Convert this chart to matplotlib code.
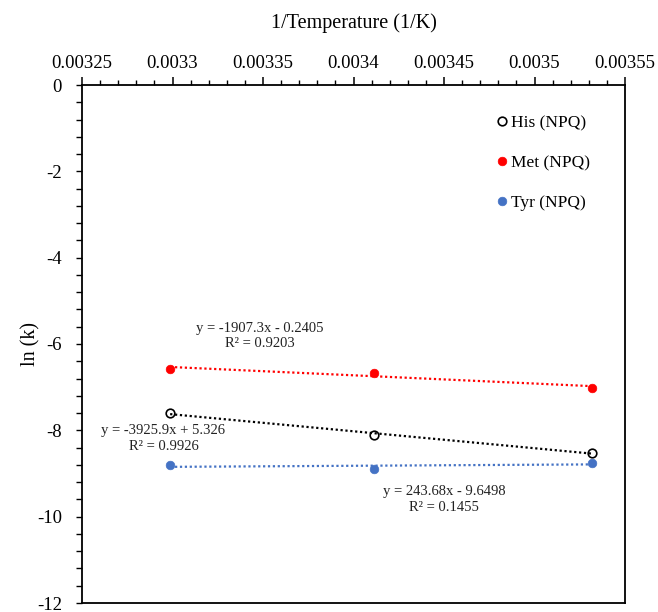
import numpy as np
import matplotlib
matplotlib.use("Agg")
import matplotlib.pyplot as plt
from matplotlib.ticker import MultipleLocator, FixedLocator

plt.rcParams['font.family'] = ['Liberation Serif', 'DejaVu Serif']
plt.rcParams['axes.unicode_minus'] = False

# ---- data ----
temps_K = [303.15, 293.15, 283.15]
inv_T = [1.0 / t for t in temps_K]
his_lnk = [-7.600, -8.112, -8.517]
met_lnk = [-6.571, -6.672, -7.013]
tyr_lnk = [-8.805, -8.897, -8.751]

series_names = ['His (NPQ)', 'Met (NPQ)', 'Tyr (NPQ)']
fit_slopes = [-3925.9, -1907.3, 243.68]
fit_intercepts = [5.326, -0.2405, -9.6498]
fit_r2 = ['0.9926', '0.9203', '0.1455']
fit_eq = ['y = -3925.9x + 5.326', 'y = -1907.3x - 0.2405', 'y = 243.68x - 9.6498']

x_ticks = [0.00325, 0.0033, 0.00335, 0.0034, 0.00345, 0.0035, 0.00355]
x_tick_labels = ['0.00325', '0.0033', '0.00335', '0.0034', '0.00345', '0.0035', '0.00355']
y_ticks = [0, -2, -4, -6, -8, -10, -12]
y_tick_labels = ['0', '-2', '-4', '-6', '-8', '-10', '-12']

# ---- figure ----
W, H = 658, 612
fig = plt.figure(figsize=(W / 100, H / 100), dpi=100)
ax_l, ax_r, ax_t, ax_b = 82, 625, 85, 603
ax = fig.add_axes([ax_l / W, 1 - ax_b / H, (ax_r - ax_l) / W, (ax_b - ax_t) / H])

ax.set_xlim(0.00325, 0.00355)
ax.set_ylim(-12, 0)

colors = ['black', '#FF0000', '#4472C4']
values = [his_lnk, met_lnk, tyr_lnk]
handles = []
for i, (name, vals, col) in enumerate(zip(series_names, values, colors)):
    if i == 0:
        h, = ax.plot(inv_T, vals, 'o', ms=6.2, mfc='white', mec='black', mew=1.2,
                     label=name, zorder=3, clip_on=False)
    else:
        h, = ax.plot(inv_T, vals, 'o', ms=6.2, mfc=col, mec=col, mew=0.5,
                     label=name, zorder=3, clip_on=False)
    handles.append(h)
    xs = np.array([min(inv_T), max(inv_T)])
    ax.plot(xs, fit_slopes[i] * xs + fit_intercepts[i], linestyle=(0, (1, 1.2)),
            lw=1.6, color=col, zorder=4)

# equation annotations (positions)
eq_pos = [(0.003295, -8.19), (0.003348, -5.815), (0.003450, -9.60)]
for i in range(3):
    ax.text(eq_pos[i][0], eq_pos[i][1], fit_eq[i] + '\nR\u00b2 = ' + fit_r2[i],
            ha='center', va='center', fontsize=10.5, linespacing=1.27, color='#222222')

# axes styling
ax.xaxis.tick_top()
ax.xaxis.set_label_position('top')
ax.xaxis.set_major_locator(FixedLocator(x_ticks))
ax.set_xticklabels(x_tick_labels)
ax.xaxis.set_minor_locator(MultipleLocator(0.00001))
ax.yaxis.set_major_locator(FixedLocator(y_ticks))
ax.set_yticklabels(y_tick_labels)
ax.yaxis.set_minor_locator(MultipleLocator(0.4))

ax.tick_params(axis='x', which='major', direction='out', length=5.5, width=1.1,
               labelsize=13.5, pad=4, top=True, bottom=False)
ax.tick_params(axis='x', which='minor', direction='out', length=3.5, width=1.0,
               top=True, bottom=False)
ax.tick_params(axis='y', which='both', direction='out', length=4.5, width=1.0,
               labelsize=13.5, pad=10, left=True, right=False)

for sp in ax.spines.values():
    sp.set_linewidth(1.3)
    sp.set_color('black')

ax.set_xlabel('1/Temperature (1/K)', fontsize=14.5)
ax.xaxis.set_label_coords(0.5, (ax_b - 28) / (ax_b - ax_t))
ax.set_ylabel('ln (k)', fontsize=14.5)
ax.yaxis.label.set_va('center')
ax.yaxis.set_label_coords((31 - ax_l) / (ax_r - ax_l), 0.5)

leg = ax.legend(handles=handles, loc='upper left',
                bbox_to_anchor=((496.5 - ax_l) / (ax_r - ax_l), 1 - (115 - ax_t) / (ax_b - ax_t)),
                frameon=False, borderpad=0, borderaxespad=0, handlelength=0.6,
                handletextpad=0.25, labelspacing=1.36, fontsize=12.5)

fig.savefig('out.png', dpi=100, facecolor='white')
